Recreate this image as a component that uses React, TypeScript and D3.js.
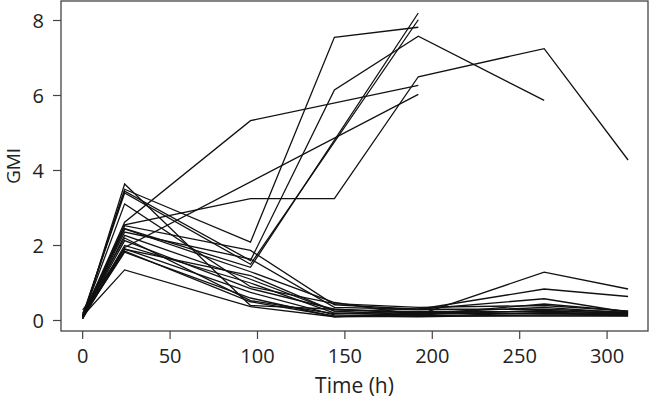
import * as d3 from 'd3'

// sampling times (h)
const times = [0, 24, 96, 144, 192, 264, 312]

// GMI per subject, null = not sampled
const s01 = [0.1, 2.55, 3.25, 3.25, 6.5, 7.25, 4.28]
const s02 = [0.12, 2.62, 5.33, null, 6.27, null, null]
const s03 = [0.1, 1.95, null, null, 6.03, null, null]
const s04 = [0.08, 3.5, 2.09, 7.55, 7.82, null, null]
const s05 = [0.15, 3.45, 1.6, 6.15, 7.58, 5.87, null]
const s06 = [0.1, 2.45, 1.42, null, 8.2, null, null]
const s07 = [0.12, 3.4, 1.5, null, 8.02, null, null]
const s08 = [0.05, 3.64, 0.4, 0.3, 0.2, 0.25, 0.2]
const s09 = [0.1, 3.11, 0.9, 0.45, 0.35, 0.4, 0.25]
const s10 = [0.1, 2.53, 1.87, 0.42, 0.3, 0.58, 0.22]
const s11 = [0.15, 2.44, 1.3, 0.48, 0.15, 1.29, 0.84]
const s12 = [0.1, 2.36, 1.64, 0.35, 0.3, 0.84, 0.64]
const s13 = [0.05, 2.27, 1.1, 0.25, 0.15, 0.44, 0.25]
const s14 = [0.1, 2.13, 0.85, 0.3, 0.2, 0.35, 0.2]
const s15 = [0.1, 2.0, 1.0, 0.2, 0.15, 0.27, 0.18]
const s16 = [0.05, 1.91, 0.75, 0.15, 0.12, 0.2, 0.15]
const s17 = [0.1, 1.85, 0.5, 0.12, 0.1, 0.15, 0.13]
const s18 = [0.1, 1.82, 0.6, 0.1, 0.2, 0.18, 0.15]
const s19 = [0.12, 1.35, 0.37, 0.1, 0.12, 0.12, 0.12]
const s20 = [0.28, 1.9, 1.2, 0.25, 0.3, 0.3, 0.22]
const s21 = [0.2, 2.2, 0.53, 0.18, 0.25, 0.22, 0.17]

const subjects = [s01, s02, s03, s04, s05, s06, s07, s08, s09, s10, s11,
  s12, s13, s14, s15, s16, s17, s18, s19, s20, s21]

const xTicks = [0, 50, 100, 150, 200, 250, 300]
const yTicks = [0, 2, 4, 6, 8]

const W = 650
const H = 402
const font = '"Open Sans", "Noto Sans", sans-serif'

export default function App() {
  const left = 61
  const right = 648
  const top = 1
  const bottom = 331

  const x = d3.scaleLinear().domain([-12.4, 323.4]).range([left, right])
  const y = d3.scaleLinear().domain([-0.28, 8.52]).range([bottom, top])

  const line = d3
    .line<[number, number]>()
    .x((d) => x(d[0]))
    .y((d) => y(d[1]))

  const paths = subjects.map((vals) => {
    const pts = vals
      .map((v, i) => [times[i], v] as [number, number | null])
      .filter((p) => p[1] !== null) as [number, number][]
    return line(pts) || ''
  })

  return (
    <svg
      width={W}
      height={H}
      style={{ position: 'absolute', left: 0, top: 0, background: '#fff' }}
      fontFamily={font}
    >
      <g fill="none" stroke="#111" strokeWidth={1.3} strokeLinejoin="miter">
        {paths.map((d, i) => (
          <path key={i} d={d} />
        ))}
      </g>

      <rect
        x={left}
        y={top}
        width={right - left}
        height={bottom - top}
        fill="none"
        stroke="#444"
        strokeWidth={1.3}
      />

      {xTicks.map((t) => (
        <g key={t} transform={`translate(${x(t)},${bottom})`}>
          <line y1={0} y2={8} stroke="#444" strokeWidth={1.2} />
          <text y={32} textAnchor="middle" fontSize={20} fill="#222">
            {t}
          </text>
        </g>
      ))}

      {yTicks.map((t) => (
        <g key={t} transform={`translate(${left},${y(t)})`}>
          <line x1={0} x2={-8} stroke="#444" strokeWidth={1.2} />
          <text x={-17} dy="0.35em" textAnchor="end" fontSize={20} fill="#222">
            {t}
          </text>
        </g>
      ))}

      <text x={(left + right) / 2} y={393} textAnchor="middle" fontSize={21} fill="#222">
        Time (h)
      </text>
      <text
        transform={`translate(20,${(top + bottom) / 2}) rotate(-90)`}
        textAnchor="middle"
        fontSize={19}
        fill="#222"
      >
        GMI
      </text>
    </svg>
  )
}
